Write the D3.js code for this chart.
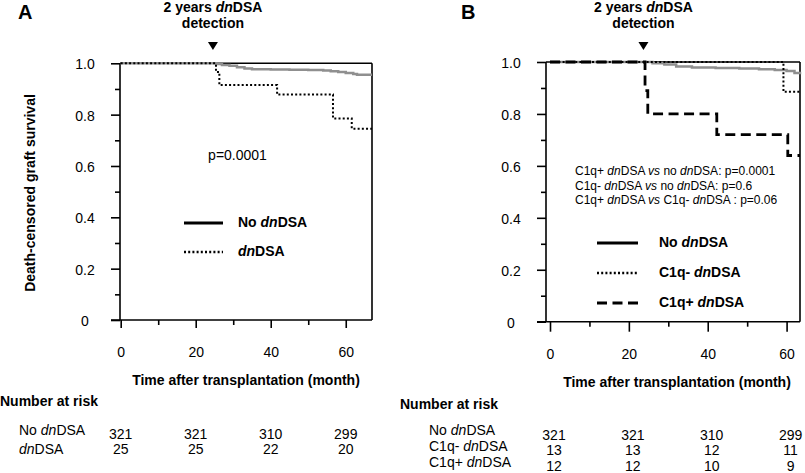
<!DOCTYPE html>
<html>
<head>
<meta charset="utf-8">
<script src="https://cdn.jsdelivr.net/npm/d3@7"></script>
<style>
  html, body { margin: 0; padding: 0; background: #fff; }
  svg { display: block; font-family: "Liberation Sans", Arial, Helvetica, sans-serif; }
</style>
</head>
<body>
<svg id="chart" width="805" height="473"></svg>
<script>
// ---------------- data ----------------
const monthTicks = [0, 20, 40, 60];
const monthMinorTicks = [10, 30, 50];
const survTicks = [0, 0.2, 0.4, 0.6, 0.8, 1.0];
const survTickLabels = ["0", "0.2", "0.4", "0.6", "0.8", "1.0"];
const survMinorTicks = [0.1, 0.3, 0.5, 0.7, 0.9];

// Panel A curves: [month, survival]
const aNoDSA = [[0,1],[24.5,1],[25.5,0.997],[27,0.993],[29,0.99],[31,0.985],[33,0.98],[35,0.977],[40,0.976],[45,0.975],[50,0.974],[54,0.972],[56,0.969],[58,0.966],[60,0.962],[62,0.958],[63,0.955],[67,0.955]];
const aDnDSA  = [[0,1],[25.4,0.966],[26.3,0.915],[41.7,0.878],[56.6,0.785],[61.6,0.745],[67,0.745]];

// Panel B curves
const bNoDSA  = [[0,1],[23.5,1],[26,0.995],[29,0.99],[32,0.983],[36,0.979],[42,0.977],[48,0.975],[53,0.972],[57,0.969],[60,0.965],[62,0.958],[63.4,0.953]];
const bC1qNeg = [[0,1],[59.2,0.885],[63.4,0.885]];
const bC1qPos = [[0,1],[24.1,0.89],[24.8,0.8],[42.3,0.72],[60.3,0.64],[63.4,0.64]];

// Number at risk
const riskGroupsA = ["No *dn*DSA", "*dn*DSA"];
const riskValuesA = [[321, 321, 310, 299], [25, 25, 22, 20]];
const riskGroupsB = ["No *dn*DSA", "C1q- *dn*DSA", "C1q+ *dn*DSA"];
const riskValuesB = [[321, 321, 310, 299], [13, 13, 12, 11], [12, 12, 10, 9]];

const legendA = ["No *dn*DSA", "*dn*DSA"];
const legendB = ["No *dn*DSA", "C1q- *dn*DSA", "C1q+ *dn*DSA"];
const pTextA = ["p=0.0001"];
const pTextB = ["C1q+ *dn*DSA *vs* no *dn*DSA: p=0.0001",
                "C1q- *dn*DSA *vs* no *dn*DSA: p=0.6",
                "C1q+ *dn*DSA *vs* C1q- *dn*DSA : p=0.06"];
const detectionMonthA = 24.6;
const detectionMonthB = 23.7;

// ---------------- helpers ----------------
const svg = d3.select("#chart");

function richText(sel, str) {
  const parts = str.split("*");
  parts.forEach((p, i) => {
    if (!p) return;
    const t = sel.append("tspan").text(p);
    if (i % 2 === 1) t.attr("font-style", "italic");
  });
  return sel;
}

const styles = {
  gray:   { stroke: "#8f8f8f", width: 2.5, dash: null },
  dotted: { stroke: "#000", width: 2, dash: "2,2.2" },
  dashed: { stroke: "#000", width: 2.8, dash: "10,5.5" },
  solid:  { stroke: "#000", width: 2.5, dash: null }
};

function drawPanel(cfg) {
  const g = svg.append("g");
  const x = d3.scaleLinear().domain([0, cfg.maxMonth]).range([cfg.x0, cfg.xRight]);
  const y = d3.scaleLinear().domain([0, 1]).range([cfg.yBottom, cfg.yTop]);

  // frame (top and right)
  g.append("line").attr("x1", cfg.axisX).attr("x2", cfg.xRight).attr("y1", y(1)).attr("y2", y(1))
    .attr("stroke", "#000").attr("stroke-width", 1.6);
  g.append("line").attr("x1", cfg.xRight).attr("x2", cfg.xRight).attr("y1", y(1)).attr("y2", y(0))
    .attr("stroke", "#000").attr("stroke-width", 1.6);

  // x axis (major)
  const xAx = g.append("g").attr("transform", `translate(0,${y(0)})`)
    .call(d3.axisBottom(x).tickValues(monthTicks).tickSizeInner(cfg.majorTick).tickSizeOuter(0).tickPadding(cfg.xLabelPad));
  xAx.select(".domain").remove();
  xAx.selectAll("line").attr("stroke-width", 1.6);
  xAx.selectAll("text").attr("font-size", 14).attr("font-family", null).attr("fill", "#000");
  const xMin = g.append("g").attr("transform", `translate(0,${y(0)})`)
    .call(d3.axisBottom(x).tickValues(monthMinorTicks).tickSizeInner(5).tickSizeOuter(0).tickFormat(""));
  xMin.select(".domain").remove();
  xMin.selectAll("line").attr("stroke-width", 1.6);
  g.append("line").attr("x1", cfg.axisX - 9).attr("x2", cfg.xRight).attr("y1", y(0)).attr("y2", y(0))
    .attr("stroke", "#000").attr("stroke-width", 1.6);

  // y axis
  const yAx = g.append("g").attr("transform", `translate(${cfg.axisX},0)`)
    .call(d3.axisLeft(y).tickValues(survTicks).tickSizeInner(9).tickSizeOuter(0)
      .tickFormat((d, i) => survTickLabels[i]));
  yAx.select(".domain").remove();
  yAx.selectAll("line").attr("stroke-width", 1.6);
  yAx.selectAll("text").attr("font-size", 14).attr("font-family", null).attr("fill", "#000")
    .attr("text-anchor", "middle").attr("x", -cfg.yLabelOffset).attr("dy", "0.4em");
  const yMin = g.append("g").attr("transform", `translate(${cfg.axisX},0)`)
    .call(d3.axisLeft(y).tickValues(survMinorTicks).tickSizeInner(5).tickSizeOuter(0).tickFormat(""));
  yMin.select(".domain").remove();
  yMin.selectAll("line").attr("stroke-width", 1.6);
  g.append("line").attr("x1", cfg.axisX).attr("x2", cfg.axisX).attr("y1", y(1)).attr("y2", y(0))
    .attr("stroke", "#000").attr("stroke-width", 1.6);

  // curves
  const line = d3.line().x(d => x(d[0])).y(d => y(d[1])).curve(d3.curveStepAfter);
  cfg.curves.forEach(c => {
    const s = styles[c.style];
    g.append("path").datum(c.data).attr("d", line).attr("fill", "none")
      .attr("stroke", s.stroke).attr("stroke-width", s.width)
      .attr("stroke-dasharray", s.dash);
  });

  // panel label
  g.append("text").attr("x", cfg.labelX).attr("y", 19).attr("font-size", 20).attr("font-weight", "bold").text(cfg.label);

  // detection marker
  const dx = x(cfg.detection);
  g.append("text").attr("x", dx).attr("y", 12).attr("text-anchor", "middle").attr("font-size", 14)
    .attr("font-weight", "bold").call(richText, "2 years *dn*DSA");
  g.append("text").attr("x", dx).attr("y", 28).attr("text-anchor", "middle").attr("font-size", 14)
    .attr("font-weight", "bold").text("detection");
  g.append("path").attr("d", `M${dx - 5},42 L${dx + 5},42 L${dx},50 Z`).attr("fill", "#000");

  // x axis title
  g.append("text").attr("x", cfg.xTitleX).attr("y", cfg.xTitleY).attr("text-anchor", "middle")
    .attr("font-size", 14).attr("font-weight", "bold").text("Time after transplantation (month)");

  // number at risk
  g.append("text").attr("x", cfg.riskTitleX).attr("y", cfg.riskTitleY).attr("font-size", 14)
    .attr("font-weight", "bold").text("Number at risk");
  cfg.riskGroups.forEach((lab, i) => {
    g.append("text").attr("x", cfg.riskLabelX).attr("y", cfg.riskLabelY[i]).attr("font-size", 14)
      .call(richText, lab);
    cfg.riskValues[i].forEach((v, j) => {
      g.append("text").attr("x", x(monthTicks[j]) + cfg.riskShift).attr("y", cfg.riskNumY[i])
        .attr("text-anchor", "middle").attr("font-size", 14).text(v);
    });
  });

  // legend
  cfg.legend.forEach((lab, i) => {
    const ly = cfg.legendY[i];
    const s = styles[cfg.legendStyles[i]];
    g.append("line").attr("x1", cfg.legendX1).attr("x2", cfg.legendX2).attr("y1", ly).attr("y2", ly)
      .attr("stroke", "#000").attr("stroke-width", s.width + 0.3).attr("stroke-dasharray", s.dash);
    g.append("text").attr("x", cfg.legendTextX).attr("y", ly + 4).attr("font-size", 14)
      .attr("font-weight", "bold").call(richText, lab);
  });

  // p-values
  cfg.pText.forEach((t, i) => {
    g.append("text").attr("x", cfg.pX).attr("y", cfg.pY[i]).attr("text-anchor", cfg.pAnchor)
      .attr("font-size", cfg.pSize).call(richText, t);
  });
  return g;
}

drawPanel({
  label: "A", labelX: 18,
  maxMonth: 67, x0: 120.7, xRight: 372, axisX: 120, yTop: 63.3, yBottom: 320,
  majorTick: 8, xLabelPad: 19, yLabelOffset: 35,
  curves: [{ data: aNoDSA, style: "gray" }, { data: aDnDSA, style: "dotted" }],
  detection: detectionMonthA,
  xTitleX: 246, xTitleY: 385,
  riskTitleX: 0, riskTitleY: 406,
  riskGroups: riskGroupsA, riskValues: riskValuesA, riskLabelX: 19,
  riskLabelY: [435, 454], riskNumY: [439, 454], riskShift: 0,
  legend: legendA, legendStyles: ["solid", "dotted"], legendY: [223, 252],
  legendX1: 184, legendX2: 223, legendTextX: 238,
  pText: pTextA, pX: 237.5, pY: [160], pAnchor: "middle", pSize: 14
});

drawPanel({
  label: "B", labelX: 461,
  maxMonth: 63.4, x0: 550, xRight: 800, axisX: 546, yTop: 62, yBottom: 321.7,
  majorTick: 10, xLabelPad: 17, yLabelOffset: 35,
  curves: [{ data: bNoDSA, style: "gray" }, { data: bC1qNeg, style: "dotted" }, { data: bC1qPos, style: "dashed" }],
  detection: detectionMonthB,
  xTitleX: 677, xTitleY: 387,
  riskTitleX: 400, riskTitleY: 409,
  riskGroups: riskGroupsB, riskValues: riskValuesB, riskLabelX: 429,
  riskLabelY: [435, 451, 467], riskNumY: [440, 455, 471], riskShift: 4,
  legend: legendB, legendStyles: ["solid", "dotted", "dashed"], legendY: [243, 273, 303],
  legendX1: 597, legendX2: 638, legendTextX: 659,
  pText: pTextB, pX: 575, pY: [175, 189.5, 204], pAnchor: "start", pSize: 12
});

// y-axis title (panel A only)
svg.append("text").attr("transform", "translate(35,193) rotate(-90)").attr("text-anchor", "middle")
  .attr("font-size", 14).attr("font-weight", "bold").text("Death-censored graft survival");
</script>
</body>
</html>
